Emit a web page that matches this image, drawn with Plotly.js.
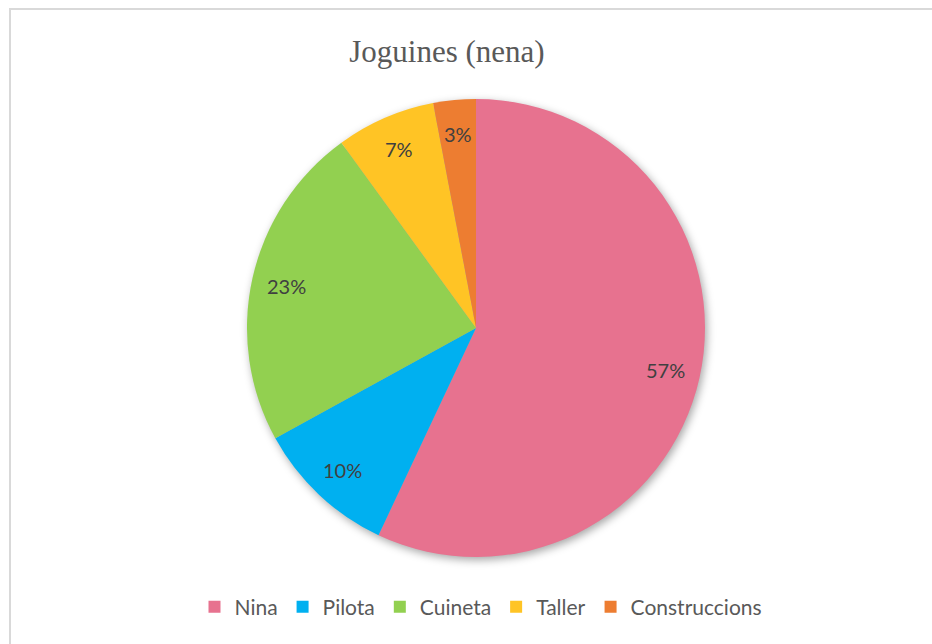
<!DOCTYPE html>
<html>
<head>
<meta charset="utf-8">
<script src="https://cdn.plot.ly/plotly-3.0.1.min.js"></script>
<style>
  html, body { margin: 0; padding: 0; background: #ffffff; }
  #frame { position: absolute; left: 9px; top: 8px; width: 940px; height: 650px;
           border-left: 2px solid #d9d9d9; border-top: 2px solid #d9d9d9; pointer-events: none; z-index: 5; }
  #chart { position: absolute; left: 0; top: 0; width: 932px; height: 644px; }
</style>
</head>
<body>
<div id="chart"></div>
<div id="frame"></div>
<script>
const categories = ["Nina", "Pilota", "Cuineta", "Taller", "Construccions"];
const values = [57, 10, 23, 7, 3];
const colors = ["#E7728F", "#00B0F0", "#92D050", "#FFC425", "#ED7D31"];
const chartTitle = "Joguines (nena)";

const W = 932, H = 644;
// pie box in pixels
const box = { left: 247, right: 705, top: 99, bottom: 557 };
const R = Math.min(box.right - box.left, box.bottom - box.top) / 2;
const cx = (box.left + box.right) / 2, cy = (box.top + box.bottom) / 2;

const total = values.reduce((a, b) => a + b, 0);
let cum = 0;
const annotations = values.map((v, i) => {
  const mid = (cum + v / 2) / total * 2 * Math.PI;
  cum += v;
  const rr = 0.85 * R;
  return {
    xref: "paper", yref: "paper",
    x: (cx + rr * Math.sin(mid)) / W,
    y: 1 - (cy - rr * Math.cos(mid)) / H,
    text: Math.round(v / total * 100) + "%",
    showarrow: false,
    xanchor: "center", yanchor: "middle",
    font: { family: "Lato, 'Open Sans', sans-serif", size: 20, color: "#404040" }
  };
});

const trace = {
  type: "pie",
  labels: categories,
  values: values,
  sort: false,
  direction: "clockwise",
  rotation: 0,
  textinfo: "none",
  hoverinfo: "label+percent",
  domain: { x: [box.left / W, box.right / W], y: [1 - box.bottom / H, 1 - box.top / H] },
  marker: { colors: colors, line: { width: 0 } }
};

const layout = {
  width: W, height: H,
  margin: { l: 0, r: 0, t: 0, b: 0, autoexpand: false },
  paper_bgcolor: "#ffffff",
  title: {
    text: chartTitle,
    font: { family: "'Liberation Serif', 'Times New Roman', serif", size: 31, color: "#595959" },
    x: 447 / W, xref: "container", xanchor: "center",
    y: 1 - 51 / H, yref: "container", yanchor: "middle"
  },
  showlegend: true,
  legend: {
    orientation: "h",
    x: 481 / W, xanchor: "center",
    y: 1 - 607 / H, yanchor: "middle",
    font: { family: "Lato, 'Open Sans', sans-serif", size: 21, color: "#595959" },
    itemwidth: 30,
    traceorder: "normal"
  },
  annotations: annotations
};

Plotly.newPlot("chart", [trace], layout, { displayModeBar: false, staticPlot: true }).then(() => {
  document.querySelectorAll(".pielayer .trace").forEach(g => {
    g.style.filter = "drop-shadow(2px 3px 4px rgba(0,0,0,0.35))";
  });
});
</script>
</body>
</html>
